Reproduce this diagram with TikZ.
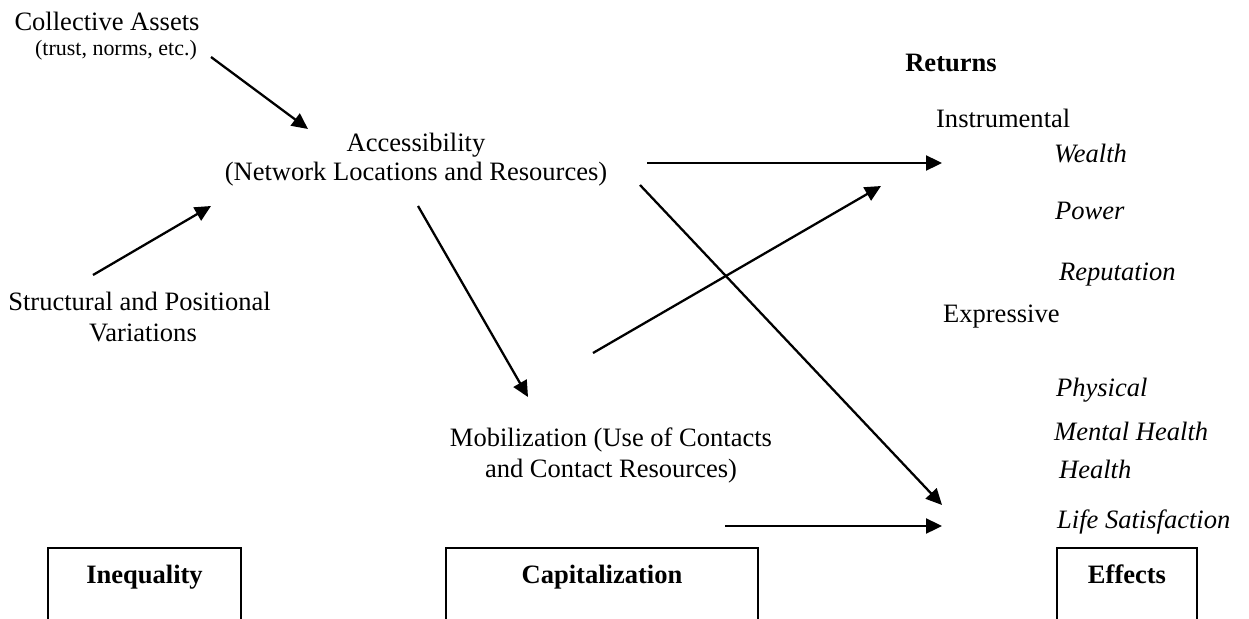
\documentclass[tikz,border=0pt]{standalone}
\usepackage{fontspec}
\setmainfont{Liberation Serif}
\usetikzlibrary{arrows.meta}

\begin{document}
\begin{tikzpicture}[>={Triangle[length=0.32cm,width=0.3cm]}, line width=1.3pt,
	font=\fontsize{15.1}{18}\selectfont,
	lbl/.style={inner sep=0pt, anchor=base},
	itx/.style={inner sep=0pt, anchor=base west, font=\fontsize{15.1}{18}\selectfont\itshape},
	catbox/.style={draw, anchor=north, inner xsep=0pt, inner ysep=0.35cm, text height=0.36cm, text depth=2cm, font=\fontsize{15.1}{18}\selectfont\bfseries}]
	\useasboundingbox (0cm,0cm) rectangle (24.98cm,-12.36cm);
	\node[lbl] (ca1) at (2.14cm,-0.62cm) {Collective Assets};
	\node[lbl, font=\fontsize{12.5}{15}\selectfont] (ca2) at (2.32cm,-1.12cm) {(trust, norms, etc.)};
	\node[lbl] (acc1) at (8.32cm,-3.02cm) {Accessibility};
	\node[lbl] (acc2) at (8.32cm,-3.60cm) {(Network Locations and Resources)};
	\node[lbl] (sp1) at (2.79cm,-6.20cm) {Structural and Positional};
	\node[lbl] (sp2) at (2.86cm,-6.82cm) {Variations};
	\node[lbl] (mob1) at (12.22cm,-8.92cm) {Mobilization (Use of Contacts};
	\node[lbl] (mob2) at (12.22cm,-9.54cm) {and Contact Resources)};
	\node[lbl, font=\fontsize{15.1}{18}\selectfont\bfseries] (ret) at (19.02cm,-1.44cm) {Returns};
	\node[lbl, anchor=base west] (inst) at (18.70cm,-2.56cm) {Instrumental};
	\node[itx] (wealth) at (21.06cm,-3.26cm) {Wealth};
	\node[itx] (power) at (21.08cm,-4.38cm) {Power};
	\node[itx] (reput) at (21.16cm,-5.60cm) {Reputation};
	\node[lbl, anchor=base west] (expr) at (18.84cm,-6.44cm) {Expressive};
	\node[itx] (phys) at (21.10cm,-7.92cm) {Physical};
	\node[itx] (mental) at (21.06cm,-8.80cm) {Mental Health};
	\node[itx] (hlth) at (21.16cm,-9.56cm) {Health};
	\node[itx] (life) at (21.12cm,-10.56cm) {Life Satisfaction};
	\node[catbox, minimum width=3.86cm] (ineq) at (2.89cm,-10.94cm) {Inequality};
	\node[catbox, minimum width=6.24cm] (capit) at (12.04cm,-10.94cm) {Capitalization};
	\node[catbox, minimum width=2.80cm] (effx) at (22.54cm,-10.94cm) {Effects};

	\coordinate (ca-out) at (4.22cm,-1.14cm);
	\coordinate (acc-in1) at (6.16cm,-2.58cm);
	\coordinate (sp-out) at (1.86cm,-5.50cm);
	\coordinate (acc-in2) at (4.22cm,-4.12cm);
	\coordinate (acc-out1) at (8.36cm,-4.12cm);
	\coordinate (mob-in) at (10.56cm,-7.94cm);
	\coordinate (acc-out2) at (12.94cm,-3.26cm);
	\coordinate (inst-in1) at (18.84cm,-3.26cm);
	\coordinate (acc-out3) at (12.80cm,-3.70cm);
	\coordinate (life-in1) at (18.84cm,-10.10cm);
	\coordinate (mob-out1) at (11.86cm,-7.06cm);
	\coordinate (inst-in2) at (17.62cm,-3.72cm);
	\coordinate (mob-out2) at (14.50cm,-10.52cm);
	\coordinate (life-in2) at (18.84cm,-10.52cm);
	\path [->] (ca-out) edge (acc-in1);
	\path [->] (sp-out) edge (acc-in2);

	\path [->] (acc-out1) edge (mob-in);
	\path [->] (acc-out2) edge (inst-in1);
	\path [->] (acc-out3) edge (life-in1);

	\path [->] (mob-out1) edge (inst-in2);
	\path [->] (mob-out2) edge (life-in2);
\end{tikzpicture}
\end{document}
